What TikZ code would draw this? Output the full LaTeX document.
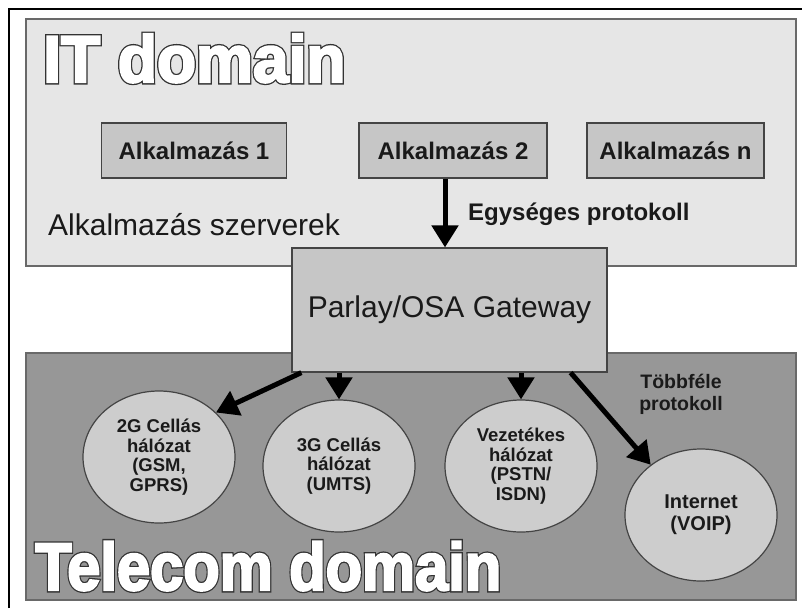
\documentclass[tikz,border=0pt]{standalone}
\usepackage{fontspec}
\setmainfont{Liberation Sans}
\usepackage{graphicx}
\usepackage{tikz}
\usetikzlibrary{arrows.meta,positioning,shapes.geometric,calc}
\definecolor{itgray}{HTML}{E6E6E6}
\definecolor{telgray}{HTML}{979797}
\definecolor{boxgray}{HTML}{C6C6C6}
\definecolor{cellgray}{HTML}{CDCDCD}
\definecolor{edgegray}{HTML}{444444}
\definecolor{textdark}{HTML}{1A1A1A}
\newcommand{\outlined}[1]{%
  \special{pdf:literal direct 2 Tr 5 w 0.2 G 0.2 g}\rlap{#1}%
  \special{pdf:literal direct 2 Tr 2.4 w 1 G 1 g}#1%
  \special{pdf:literal direct 0 Tr}}

\begin{document}
\begin{tikzpicture}[x=1pt, y=-1pt, text=textdark,
  domainbox/.style={draw=edgegray!80, line width=1.6pt},
  appbox/.style={draw=edgegray, fill=boxgray, line width=1.2pt, minimum width=185pt, minimum height=55pt, inner sep=0pt, font=\fontsize{24}{27}\selectfont\bfseries},
  cell/.style={ellipse, draw=edgegray, fill=cellgray, line width=1.2pt, minimum width=152pt, minimum height=132pt, inner sep=0pt, align=center, font=\fontsize{18.5}{19.5}\selectfont\bfseries},
  titletext/.style={anchor=base west, inner sep=0pt, text=white, font=\fontsize{66}{70}\selectfont\bfseries},
  flow/.style={line width=5pt, -{Triangle[length=22pt, width=26pt]}}]
\useasboundingbox (0,0) rectangle (802,608);
\fill[white] (0,0) rectangle (802,608);
\draw[line width=1.4pt] (9,608) -- (9,9) -- (802,9);
\draw[domainbox, fill=itgray] (26,19) rectangle (796,266);
\draw[domainbox, fill=telgray] (26,353) rectangle (796,600);
\node[draw=edgegray, fill=boxgray, line width=1.2pt, minimum width=315pt, minimum height=124pt, font=\fontsize{30}{34}\selectfont] (gw) at (449.5,310) {Parlay/OSA Gateway};
\node[appbox] (a1) at (194,150.5) {Alkalmazás 1};
\node[appbox, minimum width=188pt] (a2) at (453,150.5) {Alkalmazás 2};
\node[appbox, minimum width=177pt] (an) at (675.5,150.5) {Alkalmazás n};
\node[anchor=base west, inner sep=0pt, font=\fontsize{30}{34}\selectfont] (srv) at (48,235) {Alkalmazás szerverek};
\node[anchor=base west, inner sep=0pt, font=\fontsize{24}{28}\selectfont\bfseries] (uni) at (468,220) {Egységes protokoll};
\node[cell] (c2g) at (159,457) {2G Cellás\\hálózat\\(GSM,\\GPRS)};
\node[cell] (c3g) at (339,466) {3G Cellás\\hálózat\\(UMTS)};
\node[cell] (fix) at (521,466) {Vezetékes\\hálózat\\(PSTN/\\ISDN)};
\node[cell, font=\fontsize{20}{22}\selectfont\bfseries] (net) at (701,515) {Internet\\(VOIP)};
\node[align=center, inner sep=0pt, font=\fontsize{19.5}{22}\selectfont\bfseries] (multi) at (681,394) {Többféle\\protokoll};
\draw[flow] ([xshift=-8pt]a2.south) -- ([xshift=-8pt]a2.south |- gw.north);
\draw[flow] ($(gw.south west)+(10,0)$) -- (c2g.38);
\draw[flow] (gw.south -| c3g.north) -- (c3g.north);
\draw[flow] (gw.south -| fix.north) -- (fix.north);
\draw[flow] ($(gw.south east)+(-37,0)$) -- (net.135);
\node[titletext] (itd) at (43,82) {\outlined{\scalebox{0.97}[1]{IT domain}}};
\node[titletext, font=\fontsize{67}{70}\selectfont\bfseries] (tcd) at (35,590) {\outlined{\scalebox{0.89}[1]{Telecom domain}}};
\end{tikzpicture}
\end{document}
